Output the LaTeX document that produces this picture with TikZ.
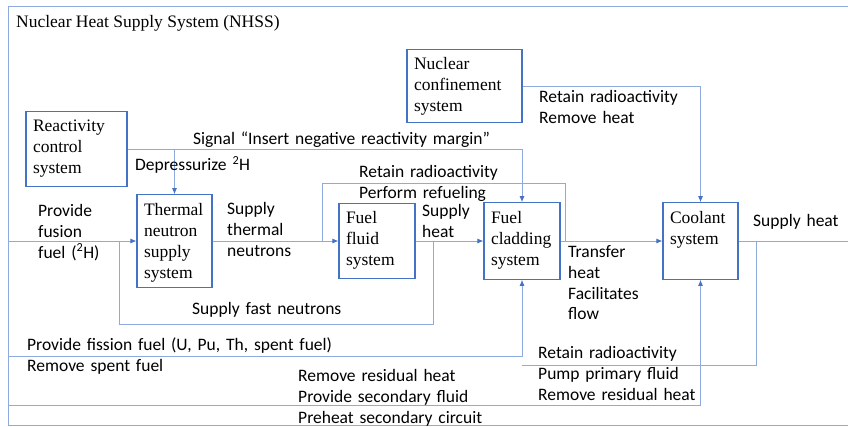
\documentclass[tikz,border=0pt]{standalone}
\usepackage{fontspec}
\setmainfont{Liberation Serif}
\newfontfamily\lblfont{Carlito}
\usepackage{tikz}
\usetikzlibrary{
arrows.meta,
calc,
}
\definecolor{boxblue}{RGB}{68,114,196}
\definecolor{lineblue}{RGB}{143,170,220}

\begin{document}
\begin{tikzpicture}[x=1pt, y=-1pt,
		box/.style={draw=boxblue, line width=1.2pt, align=left, inner xsep=7pt, inner ysep=3pt, text height=17.5pt, font=\fontsize{17.5}{21}\selectfont},
		lbl/.style={anchor=base west, inner sep=0pt, text width=340pt, align=left, font=\lblfont\fontsize{17.5}{20.8}\selectfont},
		conn/.style={draw=lineblue, line width=0.8pt},
		arr/.style={conn, -{Latex[length=6pt, width=5pt, color=boxblue]}}]
			\useasboundingbox (0,0) rectangle (848,426);
			\draw[conn] (848,6) -- (8,6) -- (8,425) -- (848,425);
			\node[anchor=base west, inner sep=0pt, font=\fontsize{17.5}{21}\selectfont] (title) at (16,27.5) {Nuclear Heat Supply System (NHSS)};

			\node[box, text width=87pt, text depth=52pt] (rcs) at (76.5,149) {Reactivity\\control\\system};
			\node[box, text width=61pt, text depth=69pt] (tns) at (174.5,241) {Thermal\\neutron\\supply\\system};
			\node[box, text width=101pt, text depth=50pt] (ncs) at (464.5,86) {Nuclear\\confinement\\system};
			\node[box, text width=62pt, text depth=52pt] (ffs) at (377,241) {Fuel\\fluid\\system};
			\node[box, text width=62pt, text depth=53pt] (fcs) at (522,241) {Fuel\\cladding\\system};
			\node[box, text width=61pt, text depth=53pt] (cs) at (700.5,241) {Coolant\\system};

			\coordinate(inL) at (8,241);
			\coordinate(outR) at (848,241);
			\coordinate(fastA) at (433,241);
			\coordinate(fastB) at (119,241);
			\coordinate(refA) at (565,241);
			\coordinate(refB) at (322,241);
			\coordinate(retA) at (756,241);
			\coordinate(retB) at (522,365);
			\coordinate(fisL) at (8,356);
			\coordinate(secL) at (8,405);

			\draw[arr] (inL) -- (tns.west);
			\draw[arr] (tns.east) -- (ffs.west);
			\draw[arr] (ffs.east) -- (fcs.west);
			\draw[arr] (fcs.east) -- (cs.west);
			\draw[conn] (cs.east) -- (outR);
			\draw[arr] (rcs.east) -| (fcs.north);
			\draw[arr] (rcs.east -| tns.north) -- (tns.north);
			\draw[arr] (ncs.east) -| (cs.north);
			\draw[conn] (fastA) -- ++(0,83) -| (fastB);
			\draw[conn] (refA) -- ++(0,-58) -| (refB);
			\draw[conn] (retA) |- (retB);
			\draw[arr] (fisL) -| (fcs.south);
			\draw[arr] (secL) -| (cs.south);

			\node[lbl] (sig) at (193,144.5) {Signal “Insert negative reactivity margin”};
			\node[lbl] (dep) at (135,170.5) {Depressurize \textsuperscript{2}H};
			\node[lbl] (fus) at (38,216.5) {Provide\\fusion\\fuel (\textsuperscript{2}H)};
			\node[lbl] (thn) at (227,214.5) {Supply\\thermal\\neutrons};
			\node[lbl] (ref) at (359,177.5) {Retain radioactivity\\Perform refueling};
			\node[lbl] (sph) at (422,216.5) {Supply\\heat};
			\node[lbl] (rrh) at (539,102.5) {Retain radioactivity\\Remove heat};
			\node[lbl] (trf) at (568,257.5) {Transfer\\heat\\Facilitates\\flow};
			\node[lbl] (out) at (753,226.5) {Supply heat};
			\node[lbl] (fst) at (192,314.5) {Supply fast neutrons};
			\node[lbl] (fis) at (27,350.5) {Provide fission fuel (U, Pu, Th, spent fuel)};
			\node[lbl] (spt) at (27,371.5) {Remove spent fuel};
			\node[lbl] (pmp) at (538,358.5) {Retain radioactivity\\Pump primary fluid\\Remove residual heat};
			\node[lbl] (sec) at (298,381.5) {Remove residual heat\\Provide secondary fluid\\Preheat secondary circuit};
		\end{tikzpicture}
\end{document}
